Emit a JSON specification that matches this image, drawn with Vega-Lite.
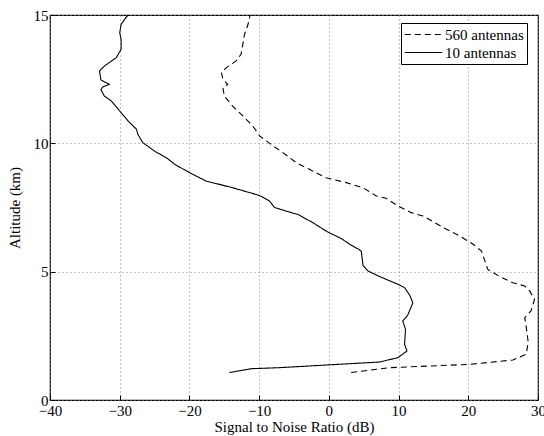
{
  "$schema": "https://vega.github.io/schema/vega-lite/v6.json",
  "autosize": "none",
  "padding": {"left": 50, "top": 15, "right": 6, "bottom": 36},
  "width": 488,
  "height": 385,
  "config": {
    "font": "Liberation Serif",
    "view": {"stroke": "black", "strokeWidth": 1.2},
    "axis": {
      "labelFont": "Liberation Serif", "labelFontSize": 15, "labelColor": "black",
      "titleFont": "Liberation Serif", "titleFontSize": 15, "titleFontWeight": "normal", "titleColor": "black",
      "domain": false, "tickColor": "black", "tickSize": -5,
      "grid": true, "gridColor": "#888", "gridDash": [1, 3], "gridWidth": 1
    }
  },
  "data": {
    "values": [
      {"series": "10 antennas", "snr": -14.25, "alt": 1.07},
      {"series": "10 antennas", "snr": -11.1, "alt": 1.22},
      {"series": "10 antennas", "snr": -7.07, "alt": 1.26},
      {"series": "10 antennas", "snr": 7.27, "alt": 1.48},
      {"series": "10 antennas", "snr": 9.9, "alt": 1.65},
      {"series": "10 antennas", "snr": 11.2, "alt": 1.91},
      {"series": "10 antennas", "snr": 10.86, "alt": 2.17},
      {"series": "10 antennas", "snr": 11.0, "alt": 2.75},
      {"series": "10 antennas", "snr": 10.6, "alt": 3.08},
      {"series": "10 antennas", "snr": 11.3, "alt": 3.3},
      {"series": "10 antennas", "snr": 12.05, "alt": 3.79},
      {"series": "10 antennas", "snr": 11.6, "alt": 4.08},
      {"series": "10 antennas", "snr": 10.86, "alt": 4.38},
      {"series": "10 antennas", "snr": 9.9, "alt": 4.51},
      {"series": "10 antennas", "snr": 7.27, "alt": 4.81},
      {"series": "10 antennas", "snr": 5.6, "alt": 5.03},
      {"series": "10 antennas", "snr": 4.9, "alt": 5.25},
      {"series": "10 antennas", "snr": 4.65, "alt": 5.8},
      {"series": "10 antennas", "snr": 4.3, "alt": 5.87},
      {"series": "10 antennas", "snr": 3.2, "alt": 6.03},
      {"series": "10 antennas", "snr": 1.78, "alt": 6.29},
      {"series": "10 antennas", "snr": -0.14, "alt": 6.54},
      {"series": "10 antennas", "snr": -2.3, "alt": 6.91},
      {"series": "10 antennas", "snr": -4.45, "alt": 7.23},
      {"series": "10 antennas", "snr": -5.5, "alt": 7.31},
      {"series": "10 antennas", "snr": -7.8, "alt": 7.5},
      {"series": "10 antennas", "snr": -8.5, "alt": 7.75},
      {"series": "10 antennas", "snr": -9.95, "alt": 7.97},
      {"series": "10 antennas", "snr": -13.8, "alt": 8.27},
      {"series": "10 antennas", "snr": -17.6, "alt": 8.53},
      {"series": "10 antennas", "snr": -20.0, "alt": 8.86},
      {"series": "10 antennas", "snr": -22.1, "alt": 9.18},
      {"series": "10 antennas", "snr": -23.3, "alt": 9.44},
      {"series": "10 antennas", "snr": -24.8, "alt": 9.66},
      {"series": "10 antennas", "snr": -26.7, "alt": 10.03},
      {"series": "10 antennas", "snr": -27.4, "alt": 10.35},
      {"series": "10 antennas", "snr": -27.6, "alt": 10.55},
      {"series": "10 antennas", "snr": -28.8, "alt": 10.87},
      {"series": "10 antennas", "snr": -30.0, "alt": 11.26},
      {"series": "10 antennas", "snr": -31.2, "alt": 11.65},
      {"series": "10 antennas", "snr": -32.2, "alt": 11.84},
      {"series": "10 antennas", "snr": -32.7, "alt": 12.1},
      {"series": "10 antennas", "snr": -32.4, "alt": 12.2},
      {"series": "10 antennas", "snr": -31.5, "alt": 12.3},
      {"series": "10 antennas", "snr": -32.7, "alt": 12.47},
      {"series": "10 antennas", "snr": -32.9, "alt": 12.82},
      {"series": "10 antennas", "snr": -32.2, "alt": 13.01},
      {"series": "10 antennas", "snr": -30.5, "alt": 13.34},
      {"series": "10 antennas", "snr": -29.8, "alt": 13.66},
      {"series": "10 antennas", "snr": -29.8, "alt": 14.05},
      {"series": "10 antennas", "snr": -30.0, "alt": 14.31},
      {"series": "10 antennas", "snr": -29.8, "alt": 14.63},
      {"series": "10 antennas", "snr": -29.3, "alt": 14.83},
      {"series": "10 antennas", "snr": -28.8, "alt": 15.0},
      {"series": "560 antennas", "snr": 3.2, "alt": 1.07},
      {"series": "560 antennas", "snr": 8.7, "alt": 1.26},
      {"series": "560 antennas", "snr": 20.2, "alt": 1.39},
      {"series": "560 antennas", "snr": 26.4, "alt": 1.56},
      {"series": "560 antennas", "snr": 28.3, "alt": 1.78},
      {"series": "560 antennas", "snr": 28.6, "alt": 2.24},
      {"series": "560 antennas", "snr": 28.3, "alt": 2.88},
      {"series": "560 antennas", "snr": 28.1, "alt": 3.21},
      {"series": "560 antennas", "snr": 29.0, "alt": 3.47},
      {"series": "560 antennas", "snr": 29.5, "alt": 3.92},
      {"series": "560 antennas", "snr": 28.8, "alt": 4.25},
      {"series": "560 antennas", "snr": 28.1, "alt": 4.44},
      {"series": "560 antennas", "snr": 26.4, "alt": 4.57},
      {"series": "560 antennas", "snr": 24.5, "alt": 4.81},
      {"series": "560 antennas", "snr": 22.8, "alt": 5.09},
      {"series": "560 antennas", "snr": 22.3, "alt": 5.48},
      {"series": "560 antennas", "snr": 21.9, "alt": 5.8},
      {"series": "560 antennas", "snr": 20.7, "alt": 6.07},
      {"series": "560 antennas", "snr": 18.75, "alt": 6.39},
      {"series": "560 antennas", "snr": 16.4, "alt": 6.72},
      {"series": "560 antennas", "snr": 13.5, "alt": 7.17},
      {"series": "560 antennas", "snr": 11.8, "alt": 7.3},
      {"series": "560 antennas", "snr": 9.9, "alt": 7.56},
      {"series": "560 antennas", "snr": 8.2, "alt": 7.86},
      {"series": "560 antennas", "snr": 6.8, "alt": 7.95},
      {"series": "560 antennas", "snr": 4.9, "alt": 8.27},
      {"series": "560 antennas", "snr": 2.5, "alt": 8.47},
      {"series": "560 antennas", "snr": -0.4, "alt": 8.66},
      {"series": "560 antennas", "snr": -2.8, "alt": 8.99},
      {"series": "560 antennas", "snr": -4.7, "alt": 9.25},
      {"series": "560 antennas", "snr": -6.6, "alt": 9.64},
      {"series": "560 antennas", "snr": -8.0, "alt": 9.9},
      {"series": "560 antennas", "snr": -9.9, "alt": 10.28},
      {"series": "560 antennas", "snr": -10.9, "alt": 10.67},
      {"series": "560 antennas", "snr": -12.3, "alt": 11.06},
      {"series": "560 antennas", "snr": -13.8, "alt": 11.45},
      {"series": "560 antennas", "snr": -15.0, "alt": 11.84},
      {"series": "560 antennas", "snr": -15.2, "alt": 12.17},
      {"series": "560 antennas", "snr": -14.5, "alt": 12.3},
      {"series": "560 antennas", "snr": -15.2, "alt": 12.49},
      {"series": "560 antennas", "snr": -15.4, "alt": 12.75},
      {"series": "560 antennas", "snr": -14.7, "alt": 12.95},
      {"series": "560 antennas", "snr": -13.3, "alt": 13.21},
      {"series": "560 antennas", "snr": -12.6, "alt": 13.47},
      {"series": "560 antennas", "snr": -12.3, "alt": 13.92},
      {"series": "560 antennas", "snr": -12.1, "alt": 14.24},
      {"series": "560 antennas", "snr": -11.6, "alt": 14.63},
      {"series": "560 antennas", "snr": -11.3, "alt": 15.0}
    ]
  },
  "mark": {"type": "line", "color": "black", "strokeWidth": 1.1, "clip": true},
  "encoding": {
    "x": {
      "field": "snr", "type": "quantitative",
      "scale": {"domain": [-40, 30], "nice": false, "zero": false},
      "axis": {"title": "Signal to Noise Ratio (dB)", "values": [-40, -30, -20, -10, 0, 10, 20, 30], "labelPadding": 8, "titlePadding": 1, "labelFlush": false}
    },
    "y": {
      "field": "alt", "type": "quantitative",
      "scale": {"domain": [0, 15], "nice": false},
      "axis": {"title": "Altitude (km)", "values": [0, 5, 10, 15], "labelPadding": 7, "titlePadding": 11, "labelFlush": false}
    },
    "order": {"field": "alt", "type": "quantitative"},
    "strokeDash": {
      "field": "series", "type": "nominal",
      "scale": {"domain": ["560 antennas", "10 antennas"], "range": [[6, 4], [1, 0]]},
      "legend": {
        "title": null, "orient": "none", "legendX": 351, "legendY": 8,
        "symbolType": "stroke", "symbolStrokeColor": "black", "symbolSize": 1400, "symbolStrokeWidth": 1.1,
        "labelFont": "Liberation Serif", "labelFontSize": 15, "labelColor": "black",
        "strokeColor": "black", "fillColor": "white", "padding": 3, "rowPadding": 1, "labelOffset": 2,
        "clipHeight": 17
      }
    }
  }
}
